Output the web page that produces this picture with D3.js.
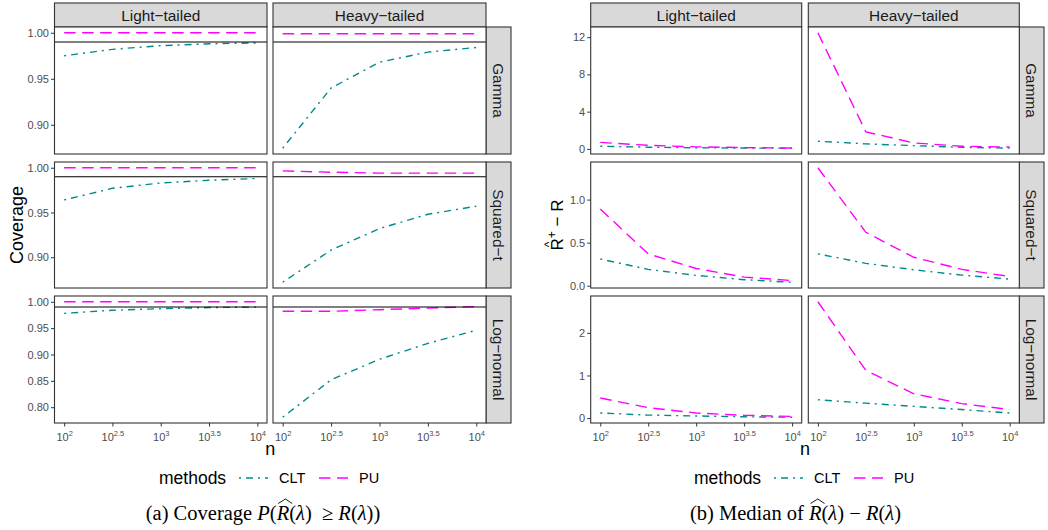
<!DOCTYPE html>
<html><head><meta charset="utf-8">
<script src="https://cdn.jsdelivr.net/npm/d3@7"></script>
<style>body{margin:0;background:#fff} svg{display:block}</style>
</head><body><svg id="c" width="1048" height="530"></svg>
<script>
// ---------- data ----------
const nValues = [100, 316.2, 1000, 3162, 10000];
const xTickValues = [100, 316.2, 1000, 3162, 10000];
const xTickExponents = ["2", "2.5", "3", "3.5", "4"];
const distributions = ["Gamma", "Squared\u2212t", "Log\u2212normal"];
const tails = ["Light\u2212tailed", "Heavy\u2212tailed"];
const methods = ["CLT", "PU"];

// Coverage
const covGammaLightCLT = [0.975, 0.982, 0.986, 0.988, 0.989];
const covGammaLightPU  = [1.000, 1.000, 1.000, 1.000, 1.000];
const covGammaHeavyCLT = [0.8745, 0.940, 0.968, 0.979, 0.984];
const covGammaHeavyPU  = [0.999, 0.999, 0.999, 0.999, 0.999];
const covSqLightCLT = [0.964, 0.977, 0.983, 0.986, 0.988];
const covSqLightPU  = [1.000, 1.000, 1.000, 1.000, 1.000];
const covSqHeavyCLT = [0.872, 0.908, 0.932, 0.948, 0.957];
const covSqHeavyPU  = [0.9965, 0.995, 0.994, 0.994, 0.994];
const covLnLightCLT = [0.978, 0.984, 0.987, 0.989, 0.990];
const covLnLightPU  = [1.000, 1.000, 1.000, 1.000, 1.000];
const covLnHeavyCLT = [0.781, 0.852, 0.891, 0.921, 0.946];
const covLnHeavyPU  = [0.982, 0.982, 0.985, 0.988, 0.991];
const covTarget = 0.99;
const covYTicks = [[0.90, 0.95, 1.00], [0.90, 0.95, 1.00], [0.80, 0.85, 0.90, 0.95, 1.00]];

// Median of Rhat - R
const medGammaLightCLT = [0.28, 0.18, 0.12, 0.09, 0.07];
const medGammaLightPU  = [0.70, 0.38, 0.22, 0.14, 0.09];
const medGammaHeavyCLT = [0.82, 0.54, 0.35, 0.17, 0.08];
const medGammaHeavyPU  = [12.47, 1.83, 0.64, 0.28, 0.20];
const medSqLightCLT = [0.31, 0.19, 0.12, 0.07, 0.04];
const medSqLightPU  = [0.89, 0.37, 0.20, 0.10, 0.06];
const medSqHeavyCLT = [0.37, 0.26, 0.185, 0.123, 0.077];
const medSqHeavyPU  = [1.37, 0.62, 0.33, 0.19, 0.107];
const medLnLightCLT = [0.12, 0.07, 0.05, 0.03, 0.02];
const medLnLightPU  = [0.47, 0.245, 0.12, 0.064, 0.04];
const medLnHeavyCLT = [0.43, 0.35, 0.275, 0.20, 0.12];
const medLnHeavyPU  = [2.73, 1.12, 0.57, 0.34, 0.20];
const medYTicks = [[0, 4, 8, 12], [0.0, 0.5, 1.0], [0, 1, 2]];

// ---------- assemble tables ----------
const covData = [
  [{CLT: covGammaLightCLT, PU: covGammaLightPU}, {CLT: covGammaHeavyCLT, PU: covGammaHeavyPU}],
  [{CLT: covSqLightCLT, PU: covSqLightPU}, {CLT: covSqHeavyCLT, PU: covSqHeavyPU}],
  [{CLT: covLnLightCLT, PU: covLnLightPU}, {CLT: covLnHeavyCLT, PU: covLnHeavyPU}]
];
const medData = [
  [{CLT: medGammaLightCLT, PU: medGammaLightPU}, {CLT: medGammaHeavyCLT, PU: medGammaHeavyPU}],
  [{CLT: medSqLightCLT, PU: medSqLightPU}, {CLT: medSqHeavyCLT, PU: medSqHeavyPU}],
  [{CLT: medLnLightCLT, PU: medLnLightPU}, {CLT: medLnHeavyCLT, PU: medLnHeavyPU}]
];

// ---------- style ----------
const SANS = "'Liberation Sans', Arial, Helvetica, sans-serif";
const SERIF = "'Liberation Serif', 'Times New Roman', serif";
const methodStyle = {
  CLT: {color: "#008b8b", dash: "2,5,7,5"},
  PU:  {color: "#ff00ff", dash: "11.5,6.5"}
};
const svg = d3.select("#c");
svg.append("rect").attr("width", 1048).attr("height", 530).attr("fill", "#fff");

function drawFigure(cfg) {
  const g = svg.append("g");
  const xLo = Math.log10(d3.min(nValues)), xHi = Math.log10(d3.max(nValues));
  const xPad = (xHi - xLo) * 0.05;
  const xScales = cfg.cols.map(c => d3.scaleLog().domain([10 ** (xLo - xPad), 10 ** (xHi + xPad)]).range(c));
  const yScales = cfg.rows.map((r, ri) => {
    const vals = [];
    tails.forEach((t, ci) => methods.forEach(m => vals.push(...cfg.data[ri][ci][m])));
    const [lo, hi] = d3.extent(vals);
    const p = (hi - lo) * 0.05;
    return d3.scaleLinear().domain([lo - p, hi + p]).range([r[1], r[0]]);
  });

  // top strips
  cfg.cols.forEach((c, ci) => {
    g.append("rect").attr("x", c[0]).attr("y", cfg.stripTop[0])
      .attr("width", c[1] - c[0]).attr("height", cfg.stripTop[1] - cfg.stripTop[0])
      .attr("fill", "#d9d9d9").attr("stroke", "#333").attr("stroke-width", 1.1);
    g.append("text").attr("x", (c[0] + c[1]) / 2).attr("y", (cfg.stripTop[0] + cfg.stripTop[1]) / 2)
      .attr("text-anchor", "middle").attr("dominant-baseline", "central")
      .attr("font-family", SANS).attr("font-size", 15.4).attr("fill", "#1a1a1a").text(tails[ci]);
  });
  // right strips
  cfg.rows.forEach((r, ri) => {
    const s = cfg.stripRight;
    g.append("rect").attr("x", s[0]).attr("y", r[0]).attr("width", s[1] - s[0]).attr("height", r[1] - r[0])
      .attr("fill", "#d9d9d9").attr("stroke", "#333").attr("stroke-width", 1.1);
    g.append("text").attr("transform", `translate(${(s[0] + s[1]) / 2},${(r[0] + r[1]) / 2}) rotate(90)`)
      .attr("text-anchor", "middle").attr("dominant-baseline", "central")
      .attr("font-family", SANS).attr("font-size", 15.4).attr("fill", "#1a1a1a").text(distributions[ri]);
  });

  // panels
  cfg.rows.forEach((r, ri) => {
    const y = yScales[ri];
    cfg.cols.forEach((c, ci) => {
      const x = xScales[ci];
      g.append("rect").attr("x", c[0]).attr("y", r[0]).attr("width", c[1] - c[0]).attr("height", r[1] - r[0])
        .attr("fill", "#fff");
      const series = cfg.data[ri][ci];
      methods.forEach(m => {
        const line = d3.line().x((d, i) => x(nValues[i])).y(d => y(d));
        g.append("path").attr("d", line(series[m])).attr("fill", "none")
          .attr("stroke", methodStyle[m].color).attr("stroke-width", 1.4)
          .attr("stroke-dasharray", methodStyle[m].dash);
      });
      if (cfg.hline !== undefined) {
        g.append("line").attr("x1", c[0]).attr("x2", c[1]).attr("y1", y(cfg.hline)).attr("y2", y(cfg.hline))
          .attr("stroke", "#000").attr("stroke-width", 1.1);
      }
      g.append("rect").attr("x", c[0]).attr("y", r[0]).attr("width", c[1] - c[0]).attr("height", r[1] - r[0])
        .attr("fill", "none").attr("stroke", "#333").attr("stroke-width", 1.1);
    });
    // y axis
    const ax = g.append("g").attr("transform", `translate(${cfg.cols[0][0]},0)`)
      .call(d3.axisLeft(y).tickValues(cfg.yTicks[ri]).tickSize(3.5).tickPadding(2).tickFormat(cfg.yFmt[ri]));
    ax.select(".domain").remove();
    ax.selectAll("line").attr("stroke", "#333");
    ax.selectAll("text").attr("font-family", SANS).attr("font-size", 11).attr("fill", "#4d4d4d");
  });

  // x axes on bottom row
  const bottom = cfg.rows[cfg.rows.length - 1][1];
  cfg.cols.forEach((c, ci) => {
    const ax = g.append("g").attr("transform", `translate(0,${bottom})`)
      .call(d3.axisBottom(xScales[ci]).tickValues(xTickValues).tickSize(3.5).tickPadding(3).tickFormat(() => ""));
    ax.select(".domain").remove();
    ax.selectAll("line").attr("stroke", "#333");
    ax.selectAll(".tick text").each(function (d, i) {
      const t = d3.select(this).attr("font-family", SANS).attr("font-size", 11).attr("fill", "#4d4d4d")
        .attr("dy", "1.05em");
      t.text("10");
      t.append("tspan").attr("font-size", 7.5).attr("dy", -5).text(xTickExponents[i]);
    });
  });

  // x title
  g.append("text").attr("x", (cfg.cols[0][0] + cfg.cols[1][1]) / 2).attr("y", 455)
    .attr("text-anchor", "middle").attr("font-family", SANS).attr("font-size", 18).attr("fill", "#000").text("n");

  // legend
  const lx = cfg.legendX, ly = 478;
  g.append("text").attr("x", lx).attr("y", ly).attr("dominant-baseline", "central")
    .attr("font-family", SANS).attr("font-size", 17.5).attr("fill", "#000").text("methods");
  const keys = [{m: "CLT", x0: 80, tx: 120}, {m: "PU", x0: 160, tx: 200}];
  keys.forEach(k => {
    g.append("line").attr("x1", lx + k.x0).attr("x2", lx + k.x0 + 29).attr("y1", ly).attr("y2", ly)
      .attr("stroke", methodStyle[k.m].color).attr("stroke-width", 1.4)
      .attr("stroke-dasharray", methodStyle[k.m].dash);
    g.append("text").attr("x", lx + k.tx).attr("y", ly).attr("dominant-baseline", "central")
      .attr("font-family", SANS).attr("font-size", 14.5).attr("fill", "#000").text(k.m);
  });

  // caption
  const capY = 520, capFs = 20.5;
  const cap = g.append("text").attr("x", cfg.captionX).attr("y", capY).attr("text-anchor", "middle")
    .attr("font-family", SERIF).attr("font-size", capFs).attr("fill", "#000");
  let idx = 0; const hatIdx = [];
  cfg.caption.forEach(run => {
    const ts = cap.append("tspan").text(run.t);
    if (run.i) ts.attr("font-style", "italic");
    if (run.hat) hatIdx.push(idx);
    idx += run.t.length;
  });
  const capNode = cap.node();
  hatIdx.forEach(i => {
    const x0 = capNode.getStartPositionOfChar(i).x, x1 = capNode.getEndPositionOfChar(i).x;
    const yb = capY - 16.5;
    g.append("path").attr("d", `M${x0 + 1.5},${yb} L${(x0 + x1) / 2 + 2.5},${yb - 4.5} L${x1 + 3},${yb}`)
      .attr("fill", "none").attr("stroke", "#000").attr("stroke-width", 0.9);
  });

  // y title
  cfg.yTitle(g);
}

drawFigure({
  cols: [[54.5, 267], [273, 486]],
  rows: [[27, 154], [162, 288], [296, 423]],
  stripTop: [3, 27],
  stripRight: [486, 511],
  data: covData,
  hline: covTarget,
  yTicks: covYTicks,
  yFmt: [d3.format(".2f"), d3.format(".2f"), d3.format(".2f")],
  legendX: 159,
  captionX: 263,
  caption: [{t: "(a) Coverage "}, {t: "P", i: 1}, {t: "("}, {t: "R", i: 1, hat: 1}, {t: "("}, {t: "\u03bb", i: 1},
            {t: ")\u00a0 \u2265\u00a0"}, {t: "R", i: 1}, {t: "("}, {t: "\u03bb", i: 1}, {t: "))"}],
  yTitle: g => g.append("text").attr("transform", "translate(17,225) rotate(-90)")
    .attr("text-anchor", "middle").attr("dominant-baseline", "central")
    .attr("font-family", SANS).attr("font-size", 18).attr("fill", "#000").text("Coverage")
});

drawFigure({
  cols: [[590.7, 801.7], [808.3, 1019.3]],
  rows: [[27, 154], [162, 288], [296, 423]],
  stripTop: [3, 27],
  stripRight: [1019.3, 1044],
  data: medData,
  yTicks: medYTicks,
  yFmt: [d3.format("d"), d3.format(".1f"), d3.format("d")],
  legendX: 694,
  captionX: 795.5,
  caption: [{t: "(b) Median of "}, {t: "R", i: 1, hat: 1}, {t: "("}, {t: "\u03bb", i: 1}, {t: ")\u00a0\u2212\u00a0"},
            {t: "R", i: 1}, {t: "("}, {t: "\u03bb", i: 1}, {t: ")"}],
  yTitle: g => {
    const gg = g.append("g").attr("transform", "translate(556,225) rotate(-90)");
    const t = gg.append("text").attr("x", 0).attr("y", 7).attr("text-anchor", "middle")
      .attr("font-family", SANS).attr("font-size", 17).attr("fill", "#000");
    t.append("tspan").text("R");
    t.append("tspan").attr("font-size", 12).attr("dy", -7).text("+");
    t.append("tspan").attr("dy", 7).text(" \u2212 R");
    const n = t.node();
    const x0 = n.getStartPositionOfChar(0).x, x1 = n.getEndPositionOfChar(0).x;
    gg.append("text").attr("x", (x0 + x1) / 2).attr("y", -3).attr("text-anchor", "middle")
      .attr("font-family", SANS).attr("font-size", 12).attr("fill", "#000").text("^");
  }
});
</script></body></html>
